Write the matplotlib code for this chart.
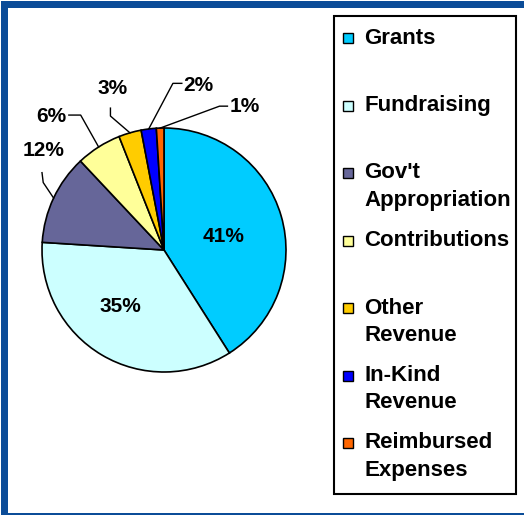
import numpy as np
import matplotlib
matplotlib.use("Agg")
import matplotlib.pyplot as plt
from matplotlib.patches import Rectangle
from matplotlib.transforms import Affine2D

plt.rcParams["font.family"] = ["Liberation Sans", "DejaVu Sans"]
plt.rcParams["font.weight"] = "bold"

# data
sources = ["Grants", "Fundraising", "Gov't\nAppropriation", "Contributions",
           "Other\nRevenue", "In-Kind\nRevenue", "Reimbursed\nExpenses"]
shares = [41, 35, 12, 6, 3, 2, 1]
colors = ["#00CCFF", "#CCFFFF", "#666699", "#FFFF99", "#FFCC00", "#0000FF", "#FF6600"]

# callout layout for the small slices: (line start, elbow, text pos, ha)
callouts = {
    2: ((-1.00, 0.634), (-0.99, 0.553), (-0.99, 0.813), "center"),
    3: ((-0.78, 1.106), (-0.683, 1.106), (-0.92, 1.098), "center"),
    4: ((-0.439, 1.163), (-0.439, 1.098), (-0.423, 1.325), "center"),
    5: ((0.146, 1.366), (0.073, 1.366), (0.155, 1.350), "left"),
    6: ((0.52, 1.179), (0.455, 1.179), (0.54, 1.179), "left"),
}
# inside labels: (radius, angle shift in degrees)
inside = {0: (0.50, -3), 1: (0.58, -7)}

W, H = 524, 515
fig = plt.figure(figsize=(W / 100, H / 100), dpi=100)
px = Affine2D().scale(1 / W, -1 / H).translate(0, 1) + fig.transFigure

# blue frame (right side runs off the picture)
frame = "#0B4C98"
for x0, y0, w, h in [(1, 1, 7, H - 1), (1, 1, W - 1, 7), (1, 513, W - 1, 2)]:
    fig.patches.append(Rectangle((x0, y0), w, h, transform=px, facecolor=frame,
                                 edgecolor="none"))

ax = fig.add_axes([42 / W, (H - 372) / H, 244 / W, 244 / H])
ax.set_facecolor("#C0C0C0")
wedges, _ = ax.pie(shares, colors=colors, startangle=90, counterclock=False,
                   radius=1.0, wedgeprops=dict(edgecolor="black", linewidth=1.2))
ax.set_xlim(-1, 1)
ax.set_ylim(-1, 1)
ax.set_xticks([])
ax.set_yticks([])
for s in ax.spines.values():
    s.set_visible(False)

for i, (w, v) in enumerate(zip(wedges, shares)):
    mid = np.deg2rad((w.theta1 + w.theta2) / 2)
    ex, ey = np.cos(mid), np.sin(mid)
    if i in callouts:
        start, elbow, tpos, ha = callouts[i]
        ax.plot([start[0], elbow[0], ex], [start[1], elbow[1], ey], color="black",
                lw=1.0, clip_on=False)
        ax.text(tpos[0], tpos[1], f"{v}%", ha=ha, va="center", fontsize=15,
                fontweight="bold", clip_on=False)
    else:
        r, shift = inside[i]
        a = mid + np.deg2rad(shift)
        ax.text(r * np.cos(a), r * np.sin(a), f"{v}%", ha="center", va="center",
                fontsize=15, fontweight="bold")

# legend box
fig.patches.append(Rectangle((334, 16), 182, 478, transform=px, facecolor="white",
                             edgecolor="black", lw=1.5))
for i, (lab, c) in enumerate(zip(sources, colors)):
    y = 38 + i * 67.5
    fig.patches.append(Rectangle((343, y - 5), 10, 10, transform=px, facecolor=c,
                                 edgecolor="black", lw=1.0))
    for j, line in enumerate(lab.split("\n")):
        fig.text(364, y + j * 27.5, line, transform=px, ha="left", va="center",
                 fontsize=16, fontweight="bold")

fig.savefig("out.png", dpi=100)
